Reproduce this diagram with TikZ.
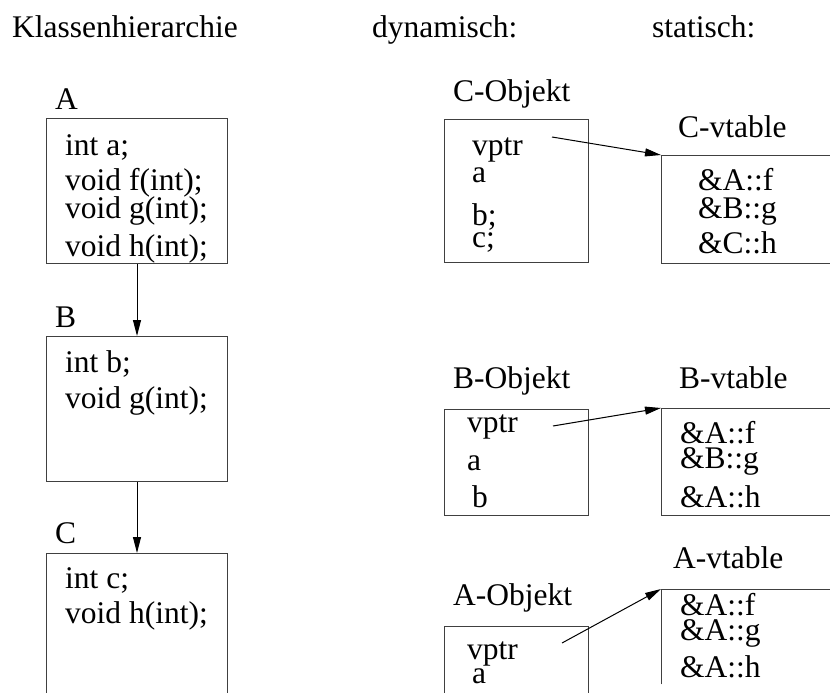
\documentclass[tikz,border=0pt]{standalone}
\usepackage{fontspec}
\setmainfont{Liberation Serif}
\usetikzlibrary{arrows.meta}
\begin{document}
\begin{tikzpicture}[x=1pt,y=-1pt,
  txt/.style={anchor=base west,inner sep=0pt,font=\fontsize{31.5}{36}\selectfont},
  box/.style={draw=black!75,line width=1pt,anchor=north west,inner sep=0pt},
  arr/.style={-{Triangle[length=16pt,width=8pt]},line width=1pt},
]
\useasboundingbox (0,0) rectangle (830,693);
\clip (0,0) rectangle (830,693);

% headings
\node[txt] (h1) at (12,38) {Klassenhierarchie};
\node[txt] (h2) at (372,38) {dynamisch:};
\node[txt] (h3) at (652,38) {statisch:};

% class hierarchy
\node[box,minimum width=181pt,minimum height=145pt] (Abox) at (46,118) {};
\node[box,minimum width=181pt,minimum height=145pt] (Bbox) at (46,336) {};
\node[box,minimum width=181pt,minimum height=200pt] (Cbox) at (46,553) {};
\draw[arr] (Abox.south) -- (Bbox.north);
\draw[arr] (Bbox.south) -- (Cbox.north);

\node[txt] (An) at (55,109) {A};
\node[txt] (A1) at (65,155) {int a;};
\node[txt] (A2) at (65,190) {void f(int);};
\node[txt] (A3) at (65,218) {void g(int);};
\node[txt] (A4) at (65,256) {void h(int);};

\node[txt] (Bn) at (55,327) {B};
\node[txt] (B1) at (65,372) {int b;};
\node[txt] (B2) at (65,408) {void g(int);};

\node[txt] (Cn) at (55,543) {C};
\node[txt] (C1) at (65,588) {int c;};
\node[txt] (C2) at (65,623) {void h(int);};

% C object and its vtable
\node[txt] (cot) at (453,102) {C-Objekt};
\node[box,minimum width=144pt,minimum height=143pt] (cobj) at (444,119) {};
\node[txt] (cvp) at (472,155) {vptr};
\node[txt] (ca) at (472,182) {a};
\node[txt] (cb) at (472,225) {b;};
\node[txt] (cc) at (472,247) {c;};

\node[txt] (cvtt) at (678,137) {C-vtable};
\node[box,minimum width=250pt,minimum height=108pt] (cvt) at (661,155) {};
\node[txt] (cf1) at (698,190) {\&A::f};
\node[txt] (cf2) at (698,218) {\&B::g};
\node[txt] (cf3) at (698,253) {\&C::h};

\coordinate (cptr) at (552,137);
\draw[arr] (cptr) -- (cvt.north west);

% B object and its vtable
\node[txt] (bot) at (453,388) {B-Objekt};
\node[box,minimum width=144pt,minimum height=106pt] (bobj) at (444,409) {};
\node[txt] (bvp) at (467,432) {vptr};
\node[txt] (ba) at (467,470) {a};
\node[txt] (bb) at (472,507) {b};

\node[txt] (bvtt) at (679,388) {B-vtable};
\node[box,minimum width=250pt,minimum height=107pt] (bvt) at (661,408) {};
\node[txt] (bf1) at (680,443) {\&A::f};
\node[txt] (bf2) at (680,468) {\&B::g};
\node[txt] (bf3) at (680,507) {\&A::h};

\coordinate (bptr) at (553,426);
\draw[arr] (bptr) -- (bvt.north west);

% A object and its vtable
\node[txt] (aot) at (453,605) {A-Objekt};
\node[box,minimum width=144pt,minimum height=120pt] (aobj) at (444,626) {};
\node[txt] (avp) at (467,659) {vptr};
\node[txt] (aa) at (472,683) {a};

\node[txt] (avtt) at (673,568) {A-vtable};
\node[anchor=north west,inner sep=0pt,minimum width=250pt,minimum height=95pt] (avt) at (661,589) {};
\draw[draw=black!75,line width=1pt] (avt.south west) -- (avt.north west) -- (avt.north east);
\node[txt] (af1) at (680,615) {\&A::f};
\node[txt] (af2) at (680,640) {\&A::g};
\node[txt] (af3) at (680,677) {\&A::h};

\coordinate (aptr) at (562,643);
\draw[arr] (aptr) -- (avt.north west);
\end{tikzpicture}
\end{document}
